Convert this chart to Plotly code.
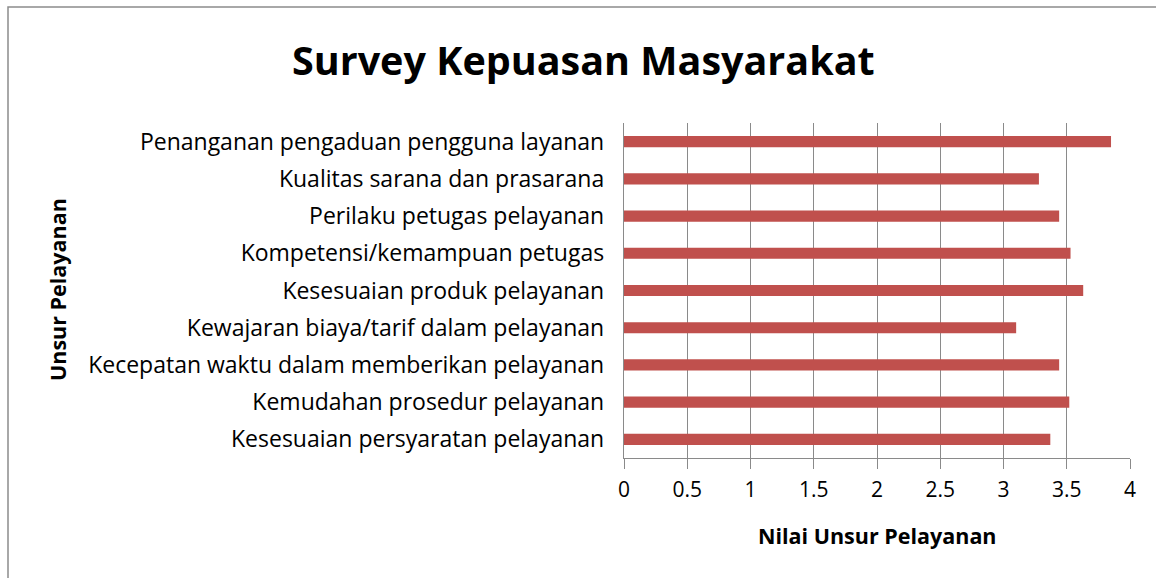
import plotly.graph_objects as go

categories = [
    "Penanganan pengaduan pengguna layanan",
    "Kualitas sarana dan prasarana",
    "Perilaku petugas pelayanan",
    "Kompetensi/kemampuan petugas",
    "Kesesuaian produk pelayanan",
    "Kewajaran biaya/tarif dalam pelayanan",
    "Kecepatan waktu dalam memberikan pelayanan",
    "Kemudahan prosedur pelayanan",
    "Kesesuaian persyaratan pelayanan",
]
values = [3.85, 3.28, 3.44, 3.53, 3.63, 3.10, 3.44, 3.52, 3.37]
x_ticks = [0, 0.5, 1, 1.5, 2, 2.5, 3, 3.5, 4]
x_tick_labels = ["0", "0.5", "1", "1.5", "2", "2.5", "3", "3.5", "4"]

title_text = "Survey Kepuasan Masyarakat"
x_title = "Nilai Unsur Pelayanan"
y_title = "Unsur Pelayanan"

FONT = "'Open Sans', sans-serif"
GRID = "#8a8a8a"

fig = go.Figure(
    go.Bar(
        y=categories,
        x=values,
        orientation="h",
        marker=dict(color="#c0504d", line=dict(width=0)),
        hoverinfo="x+y",
    )
)

fig.update_layout(
    width=1156,
    height=578,
    margin=dict(l=624, r=26, t=123, b=120, autoexpand=False),
    paper_bgcolor="white",
    plot_bgcolor="white",
    showlegend=False,
    bargap=0.70,
    font=dict(family=FONT, color="#000000", size=21),
    shapes=[
        dict(type="rect", xref="paper", yref="paper",
             x0=-616 / 506, x1=1.1, y0=-0.5, y1=1 + 116 / 335,
             line=dict(color="#8c8c8c", width=1.5), layer="below"),
    ],
    annotations=[
        dict(text=f"<b>{title_text}</b>", xref="paper", yref="paper",
             x=(583 - 624) / 506, y=1 + (123 - 60) / 335, xanchor="center", yanchor="middle",
             showarrow=False, font=dict(size=39.5, family=FONT, color="#000")),
        dict(text=f"<b>{x_title}</b>", xref="paper", yref="paper",
             x=0.5, y=-(535 - 458) / 335, xanchor="center", yanchor="middle",
             showarrow=False, font=dict(size=21.5, family=FONT, color="#000")),
        dict(text=f"<b>{y_title}</b>", xref="paper", yref="paper",
             x=-(624 - 57) / 506, y=1 - (290 - 123) / 335, xanchor="center", yanchor="middle",
             textangle=-90, showarrow=False, font=dict(size=21.5, family=FONT, color="#000")),
    ],
)

fig.update_xaxes(
    range=[0, 4],
    tickvals=x_ticks,
    ticktext=x_tick_labels,
    showgrid=True,
    gridcolor=GRID,
    gridwidth=1.4,
    zeroline=False,
    showline=True,
    linecolor=GRID,
    linewidth=1.4,
    mirror=False,
    ticks="outside",
    ticklen=10,
    tickwidth=1.4,
    tickcolor=GRID,
    ticklabelstandoff=3,
    tickfont=dict(size=21, family=FONT, color="#000"),
    fixedrange=True,
)

fig.update_yaxes(
    categoryorder="array",
    categoryarray=categories,
    autorange="reversed",
    showgrid=False,
    zeroline=False,
    showline=True,
    linecolor=GRID,
    linewidth=1.4,
    ticks="",
    ticklabelstandoff=14,
    tickfont=dict(size=23, family=FONT, color="#000"),
    fixedrange=True,
)

fig.write_html("out.html", config={"displayModeBar": False})
